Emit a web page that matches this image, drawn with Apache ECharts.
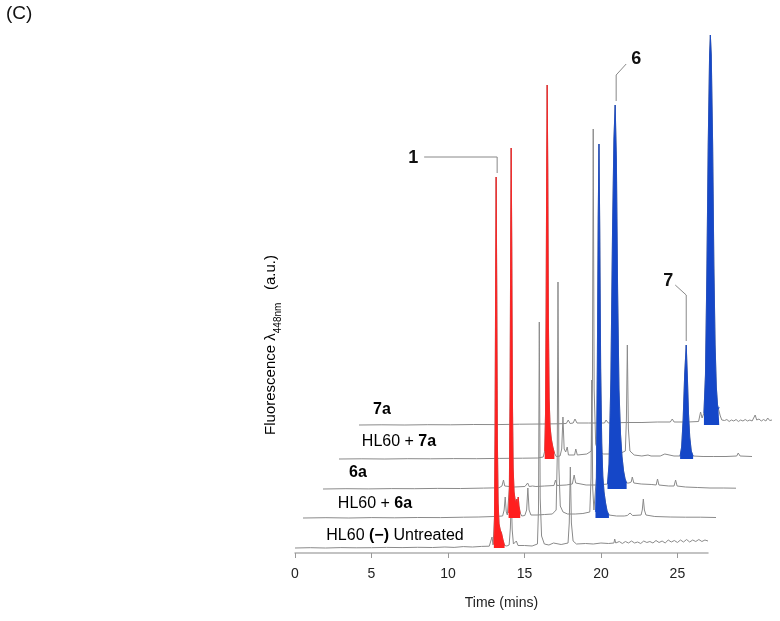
<!DOCTYPE html>
<html><head><meta charset="utf-8">
<script src="https://cdn.jsdelivr.net/npm/echarts@6.0.0/dist/echarts.min.js"></script>
<style>html,body{margin:0;padding:0;background:#fff}#c{width:780px;height:621px}</style>
</head><body><div id="c"></div>
<script>
// ---------- DATA ----------
const traceLabels = ['HL60 (−) Untreated', 'HL60 + 6a', '6a', 'HL60 + 7a', '7a'];
const xTicks = [0, 5, 10, 15, 20, 25];
const timeMax = 27;

// each trace: [time (min), fluorescence (a.u.)]
const trace0 = [[0,0],[1,0.3],[2,0],[3,0.4],[4,0.2],[5,0.3],[6,0.6],[7,0.4],[8,0.7],[9,0.5],[9.8,1],[10.4,0.6],[11,1.4],[11.6,1],[12.2,1.6],[12.7,1.8],[12.8,3],[12.88,11],[12.95,3],[13.0,4],[13.04,30],[13.08,120],[13.12,280],[13.15,371],[13.19,260],[13.23,110],[13.28,45],[13.34,24],[13.42,18],[13.5,15],[13.6,8],[13.7,2.5],[13.85,2],[14.0,3],[14.08,20],[14.14,50],[14.2,18],[14.28,4],[14.4,3],[14.47,7],[14.58,2.5],[15.0,2.5],[15.5,2],[15.85,4],[15.92,40],[15.97,226],[16.03,50],[16.12,12],[16.3,4],[16.6,3],[16.9,5],[17.0,3],[17.4,3.5],[17.85,5],[17.93,25],[18.0,81],[18.07,25],[18.18,7],[18.4,4],[19.0,4.5],[19.5,4],[20.0,5],[20.5,4.5],[20.85,5],[20.9,9],[20.97,5],[21.0,5],[21.2,6.5],[21.4,4.5],[21.6,6.5],[21.8,5],[22.0,7],[22.2,5],[22.4,6],[22.6,4.5],[22.8,7],[23.0,5.5],[23.2,6.5],[23.4,5],[23.6,7.5],[23.8,5.5],[24.0,7],[24.2,5],[24.4,8],[24.6,6],[24.8,7.5],[25.0,5.5],[25.2,8],[25.4,6],[25.6,8.5],[25.8,6],[26.0,8],[26.2,6.5],[26.4,8.5],[26.6,6.5],[26.8,8],[27.0,7]];
const trace1 = [[0,0],[1.5,0.3],[3,0],[4.5,0.4],[6,0.2],[7.5,0.5],[9,0.4],[10.5,0.8],[11.5,1],[12.5,1.5],[13.05,2],[13.15,8],[13.22,21],[13.29,6],[13.36,3],[13.44,5],[13.49,30],[13.54,130],[13.58,290],[13.61,370],[13.65,270],[13.69,120],[13.74,50],[13.8,26],[13.87,18],[13.93,15],[13.98,19],[14.02,13],[14.07,21],[14.12,12],[14.2,5],[14.3,2],[14.5,2.5],[14.62,8],[14.7,30],[14.78,8],[14.9,3],[15.3,3],[15.8,3.5],[16.3,4],[16.55,8],[16.62,60],[16.67,236],[16.73,50],[16.82,12],[17.0,6],[17.3,4],[17.8,4],[18.3,4.5],[18.75,6],[18.83,40],[18.88,138],[18.94,30],[19.02,8],[19.12,6],[19.18,40],[19.24,150],[19.3,300],[19.35,374],[19.4,290],[19.46,150],[19.53,75],[19.6,42],[19.68,26],[19.78,15],[19.88,7],[20.0,3],[20.5,2],[21.0,2],[21.2,2.5],[21.38,5],[21.55,2.5],[22.1,3],[22.18,8],[22.25,19],[22.32,8],[22.42,3],[23.0,1.5],[24,1],[25,0.8],[26,0.8],[27,0.5]];
const trace2 = [[0,0],[1.5,0.3],[3,0.1],[4.5,0.4],[6,0.3],[7.5,0.6],[9,0.5],[10.5,0.9],[11.5,1.2],[11.7,3],[11.8,9],[11.88,3],[12.5,2],[13.2,2.5],[13.38,6],[13.48,2.5],[13.7,3],[13.82,5],[13.92,2.5],[14.5,3],[15.1,3.5],[15.2,9],[15.3,3.5],[15.9,4],[16.3,5],[16.42,14],[16.52,6],[17.2,4],[17.8,4],[18.3,4.5],[18.6,5],[18.7,25],[18.82,110],[18.93,260],[19.02,350],[19.1,384],[19.18,330],[19.26,200],[19.35,100],[19.45,55],[19.55,32],[19.65,18],[19.75,10],[19.85,6],[20.0,6],[20.15,7],[20.22,12],[20.32,6],[20.8,5],[21.5,4.5],[21.78,4],[21.87,10],[21.96,4],[22.6,3],[22.95,3],[23.05,9],[23.15,3],[23.7,2],[24.5,1.5],[25.3,1],[26.2,1],[27,0.8]];
const trace3 = [[0,0],[1.5,0.2],[3,0],[4.5,0.3],[6,0.2],[7.5,0.4],[9,0.3],[10.5,0.6],[12,0.8],[13.0,1],[13.35,2],[13.45,8],[13.5,45],[13.54,150],[13.58,300],[13.61,374],[13.65,290],[13.69,140],[13.74,60],[13.8,32],[13.88,20],[13.98,12],[14.08,6],[14.2,2.5],[14.45,3],[14.56,10],[14.64,42],[14.72,10],[14.82,7],[14.92,12],[15.0,4],[15.4,4],[15.48,10],[15.58,4],[16.2,5],[16.5,8],[16.57,80],[16.62,330],[16.68,70],[16.78,15],[16.95,7],[17.3,5],[17.8,5],[18.3,5],[18.72,8],[18.79,40],[18.85,114],[18.92,30],[19.02,8],[19.3,4],[19.8,3],[20.2,4],[20.3,6],[20.4,3],[21.0,3],[21.3,5],[21.4,3],[21.9,3],[22.3,3],[22.4,12],[22.5,40],[22.6,85],[22.7,114],[22.78,80],[22.85,45],[22.93,22],[23.03,8],[23.15,3],[23.8,2.5],[24.5,2.5],[25.3,2.5],[26.0,3],[26.1,6],[26.22,3],[27.0,2.5]];
const trace4 = [[0,0],[1.5,0.2],[3,0],[4.5,0.3],[6,0.2],[7.5,0.5],[9,0.4],[10.5,0.8],[12,1],[13,1.2],[13.55,1.5],[13.68,5],[13.8,1.5],[14.0,2],[14.12,6],[14.25,2],[15,2],[16.05,2],[16.15,5],[16.3,2],[17.5,2.5],[18.5,2.5],[19.5,3],[20.35,3],[20.48,6],[20.6,3],[21.5,3],[22.2,3.5],[22.33,13],[22.43,7],[22.55,12],[22.65,50],[22.74,150],[22.83,280],[22.92,370],[22.97,390],[23.03,370],[23.12,280],[23.2,160],[23.28,80],[23.36,38],[23.44,20],[23.5,16],[23.55,18],[23.62,9],[23.72,5],[23.9,4.5],[24.05,5.5],[24.2,3.5],[24.35,5],[24.5,4],[24.65,5.5],[24.8,3.5],[24.95,5],[25.1,4],[25.25,5.5],[25.4,4],[25.55,5],[25.7,4],[25.82,6],[25.9,10],[26.0,5],[26.15,6],[26.3,4],[26.45,5.5],[26.6,4],[26.72,7],[26.85,4.5],[27.0,5]];
const traces = [trace0, trace1, trace2, trace3, trace4];

// coloured (filled) peaks: [traceIndex, fromTime, toTime]
const redPeaks = [[0, 12.97, 13.72], [1, 13.42, 14.26], [3, 13.42, 14.16]];
const bluePeaks = [[1, 19.1, 20.02], [2, 18.6, 19.9], [3, 22.3, 23.16], [4, 22.5, 23.58]];

// peak annotations: [label, traceIndex, time]
const peakLabels = [['1', 0, 13.15], ['6', 2, 19.1], ['7', 3, 22.7]];

// ---------- LAYOUT ----------
const FONT = 'Liberation Sans, Arial, Helvetica, sans-serif';
const dx = [0, 8, 28, 44, 64];          // waterfall horizontal offsets (px)
const baseY = [548, 518, 489, 459, 425]; // baseline pixel rows
const RED = '#ff1f1f', BLUE = '#1547c8', GREY = '#8a8a8a';

const grids = [], xAxes = [], yAxes = [], series = [];
traces.forEach((tr, i) => {
  grids.push({left: 295 + dx[i], top: baseY[i] - 395, width: 413, height: 400});
  xAxes.push(i === 0 ? {
    gridIndex: 0, type: 'value', min: 0, max: timeMax, interval: 5,
    name: 'Time (mins)', nameLocation: 'middle', nameGap: 43,
    nameTextStyle: {fontFamily: FONT, fontSize: 14, color: '#222'},
    axisLine: {show: true, onZero: false, lineStyle: {color: '#b0b0b0', width: 1.5}},
    axisTick: {show: true, length: 5, customValues: xTicks, lineStyle: {color: '#999'}},
    axisLabel: {fontFamily: FONT, fontSize: 14, color: '#222', margin: 14, customValues: xTicks},
    splitLine: {show: false}
  } : {gridIndex: i, type: 'value', min: 0, max: timeMax, show: false, splitLine: {show: false}});
  yAxes.push({gridIndex: i, type: 'value', min: -5, max: 395, show: false, splitLine: {show: false}});
  series.push({
    type: 'line', xAxisIndex: i, yAxisIndex: i, data: tr, showSymbol: false, clip: false,
    lineStyle: {color: GREY, width: 1}, z: 2, silent: true, animation: false
  });
});
function fillSeries(list, color) {
  list.forEach(([i, a, b]) => {
    series.push({
      type: 'line', xAxisIndex: i, yAxisIndex: i, showSymbol: false, clip: false,
      data: traces[i].filter(p => p[0] >= a && p[0] <= b),
      lineStyle: {color: color, width: 0.8}, areaStyle: {color: color, opacity: 1},
      z: 3, silent: true, animation: false
    });
  });
}
fillSeries(redPeaks, RED);
fillSeries(bluePeaks, BLUE);

const labelPos = [[395, 536], [375, 504], [358, 473], [399, 442], [382, 410]];
const rich = {n: {fontFamily: FONT, fontSize: 16, color: '#111'}, b: {fontFamily: FONT, fontSize: 16, fontWeight: 'bold', color: '#111'}};
const labelRich = [
  '{n|HL60 }{b|(−)}{n| Untreated}', '{n|HL60 + }{b|6a}', '{b|6a}', '{n|HL60 + }{b|7a}', '{b|7a}'
];
const graphics = [
  {type: 'text', x: 6, y: 4, style: {text: '(C)', font: '19px ' + FONT, fill: '#111'}},
  {type: 'text', x: 271, y: 345, rotation: Math.PI / 2,
   style: {text: '{a|Fluorescence λ}{s|448nm}{a|   (a.u.)}', align: 'center', verticalAlign: 'middle',
     rich: {a: {fontFamily: FONT, fontSize: 15, color: '#111', lineHeight: 24},
            s: {fontFamily: FONT, fontSize: 10, color: '#111', verticalAlign: 'bottom'}}}}
];
labelPos.forEach((p, i) => graphics.push({
  type: 'text', x: p[0], y: p[1],
  style: {text: labelRich[i], align: 'center', verticalAlign: 'middle', rich: rich}
}));

const chart = echarts.init(document.getElementById('c'), null, {renderer: 'canvas'});
chart.setOption({animation: false, grid: grids, xAxis: xAxes, yAxis: yAxes, series: series, graphic: graphics});

// leader lines for peak labels, anchored to the peak apex through the axes
const extra = [];
peakLabels.forEach(([lab, i, t]) => {
  const v = traces[i].find(p => p[0] === t)[1];
  const [x, y] = chart.convertToPixel({seriesIndex: i}, [t, v]);
  let pts, lx, ly;
  if (lab === '1') { pts = [[x - 72, y - 20], [x + 1, y - 20], [x + 1, y - 4]]; lx = x - 83; ly = y - 19; }
  else if (lab === '6') { pts = [[x + 11, y - 41], [x + 1, y - 30], [x + 1, y - 4]]; lx = x + 21; ly = y - 46; }
  else { pts = [[x - 11, y - 60], [x, y - 50], [x, y - 4]]; lx = x - 18; ly = y - 64; }
  extra.push({type: 'polyline', shape: {points: pts}, style: {stroke: '#888', lineWidth: 1, fill: null}});
  extra.push({type: 'text', x: lx, y: ly, style: {text: lab, align: 'center', verticalAlign: 'middle', font: 'bold 18px ' + FONT, fill: '#111'}});
});
chart.setOption({graphic: graphics.concat(extra)});
</script></body></html>
